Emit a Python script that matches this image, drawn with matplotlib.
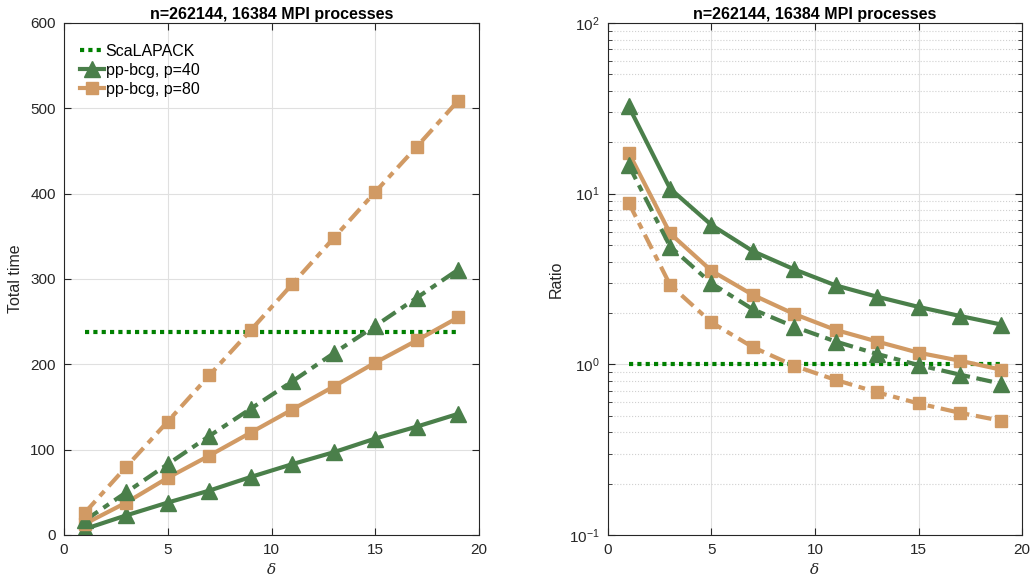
import matplotlib
matplotlib.use("Agg")
import matplotlib.pyplot as plt
from matplotlib.ticker import LogLocator, NullFormatter

plt.rcParams["font.family"] = ["Liberation Sans", "DejaVu Sans"]
plt.rcParams["mathtext.fontset"] = "custom"
plt.rcParams["mathtext.rm"] = "Liberation Sans"
plt.rcParams["mathtext.it"] = "Liberation Sans:italic"

delta = [1, 3, 5, 7, 9, 11, 13, 15, 17, 19]

# total time (left)
scalapack_time = [237.6, 237.6]
scalapack_x = [1, 19]
t_p40 = [7, 23, 38, 52, 68, 83, 97, 113, 127, 142]
t_p40_b = [17, 50, 83, 116, 148, 180, 213, 245, 278, 311]
t_p80 = [13, 38, 67, 93, 120, 147, 174, 202, 228, 255]
t_p80_b = [26, 80, 133, 187, 240, 294, 348, 402, 455, 509]

# ratio (right)
scalapack_ratio = [1.0, 1.0]
r_p40 = [32.5, 10.7, 6.55, 4.6, 3.6, 2.9, 2.49, 2.17, 1.92, 1.71]
r_p40_b = [14.7, 4.9, 2.98, 2.1, 1.66, 1.36, 1.15, 0.99, 0.87, 0.77]
r_p80 = [17.4, 5.85, 3.53, 2.55, 1.97, 1.59, 1.36, 1.17, 1.05, 0.93]
r_p80_b = [8.85, 2.92, 1.76, 1.26, 0.98, 0.81, 0.686, 0.59, 0.52, 0.467]

green = "#4a7f4a"
orange = "#d19a64"
dotgreen = "#008000"
dashdot = (0, (3.8, 1.6, 1.6, 1.6))

fig = plt.figure(figsize=(10.31, 5.79), dpi=100)
ax1 = fig.add_axes([0.0621, 0.076, 0.4025, 0.8843])
ax2 = fig.add_axes([0.5897, 0.076, 0.4016, 0.8843])


def style(ax):
    ax.tick_params(direction="in", which="both", top=True, right=True,
                   labelsize=11, colors="#262626", length=5)
    ax.tick_params(axis="y", pad=6)
    ax.tick_params(axis="x", pad=6)
    ax.tick_params(which="minor", length=3)
    for s in ax.spines.values():
        s.set_color("#262626")
        s.set_linewidth(0.8)
    ax.grid(True, color="#e0e0e0", linewidth=0.8)
    ax.set_axisbelow(True)
    ax.set_xlim(0, 20)
    ax.set_xticks([0, 5, 10, 15, 20])
    ax.set_xlabel("δ", fontfamily="DejaVu Serif", fontstyle="italic",
                  fontsize=11, color="#262626", labelpad=4)
    ax.set_title("n=262144, 16384 MPI processes", fontweight="bold",
                 fontsize=11.5, pad=3)


def draw(ax, sc, a, ab, b, bb):
    ax.plot(scalapack_x, sc, color=dotgreen, lw=3, linestyle=(0, (1, 1)),
            label="ScaLAPACK")
    ax.plot(delta, a, color=green, lw=3, marker="^", ms=11,
            label="pp-bcg, p=40")
    ax.plot(delta, b, color=orange, lw=3, marker="s", ms=8,
            label="pp-bcg, p=80")
    ax.plot(delta, ab, color=green, lw=3, marker="^", ms=11, linestyle=dashdot)
    ax.plot(delta, bb, color=orange, lw=3, marker="s", ms=8, linestyle=dashdot)


style(ax1)
draw(ax1, scalapack_time, t_p40, t_p40_b, t_p80, t_p80_b)
ax1.set_ylim(0, 600)
ax1.set_yticks(range(0, 601, 100))
ax1.set_ylabel("Total time", fontsize=11.5, color="#262626", labelpad=5)
ax1.legend(loc="upper left", frameon=False, fontsize=11.5, handlelength=1.5,
           handletextpad=0.1, labelspacing=0.25, borderaxespad=0.6,
           bbox_to_anchor=(0.0, 0.99))

style(ax2)
draw(ax2, scalapack_ratio, r_p40, r_p40_b, r_p80, r_p80_b)
ax2.set_yscale("log")
ax2.set_ylim(0.1, 100)
ax2.yaxis.set_minor_locator(LogLocator(base=10, subs=range(2, 10)))
ax2.yaxis.set_minor_formatter(NullFormatter())
ax2.grid(True, which="minor", axis="y", color="#d0d0d0", linestyle=":",
         linewidth=0.8)
ax2.set_ylabel("Ratio", fontsize=11.5, color="#262626", labelpad=4)

fig.savefig("out.png", dpi=100)
